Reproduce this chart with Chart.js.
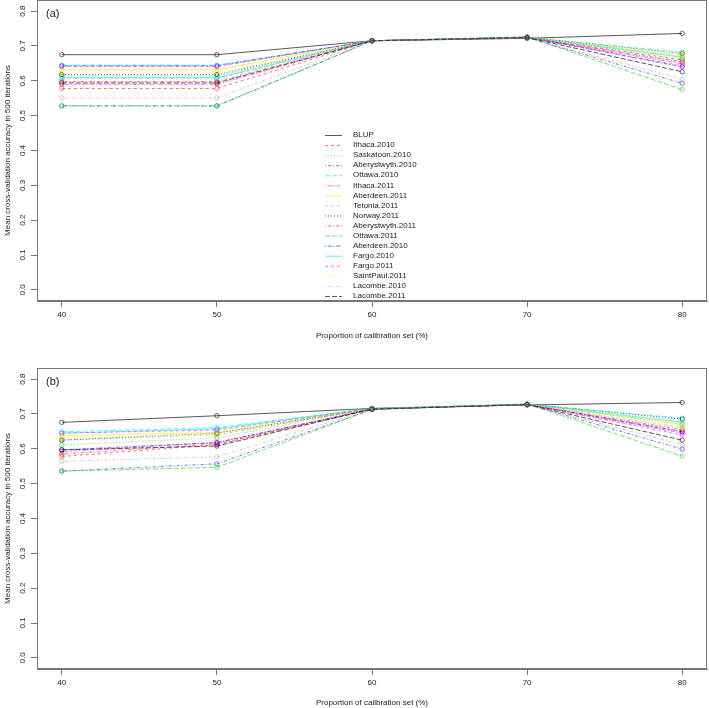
<!DOCTYPE html>
<html>
<head>
<meta charset="utf-8">
<script src="https://cdn.jsdelivr.net/npm/chart.js@4/dist/chart.umd.min.js"></script>
<style>
  html, body { margin: 0; padding: 0; background: #fff; }
  .panel { position: absolute; left: 0; width: 709px; height: 354px; }
  #panelA { top: 0; }
  #panelB { top: 354px; }
</style>
</head>
<body>
<div class="panel" id="panelA"><canvas id="chartA"></canvas></div>
<div class="panel" id="panelB"><canvas id="chartB"></canvas></div>
<script>
// x values (calibration set proportion) and y tick labels
const proportions = [40, 50, 60, 70, 80];
const yTicks = [0, 0.1, 0.2, 0.3, 0.4, 0.5, 0.6, 0.7, 0.8];

const siteNames = ['BLUP', 'Ithaca.2010', 'Saskatoon.2010', 'Aberystwyth.2010', 'Ottawa.2010',
    'Ithaca.2011', 'Aberdeen.2011', 'Tetonia.2011', 'Norway.2011', 'Aberystwyth.2011',
    'Ottawa.2011', 'Aberdeen.2010', 'Fargo.2010', 'Fargo.2011', 'SaintPaul.2011',
    'Lacombe.2010', 'Lacombe.2011'];

// R palette 1:8 and lty 1:6, recycled
const palette = ['rgba(0,0,0,0.65)', 'rgba(255,0,0,0.55)', 'rgba(0,205,0,0.55)', 'rgba(0,0,255,0.55)',
    'rgba(0,230,230,0.6)', 'rgba(255,0,255,0.55)', 'rgba(240,230,0,0.6)', 'rgba(170,170,170,0.6)'];
const dashes = [[], [3, 3], [1, 2], [1, 2, 3, 2], [5, 2], [1.5, 1.5, 4, 1.5]];

// panel (a): mean accuracy at 40,50,60,70,80 %
const accuracyA = [
    [0.675, 0.675, 0.715, 0.722, 0.736],
    [0.578, 0.578, 0.715, 0.724, 0.660],
    [0.614, 0.614, 0.715, 0.725, 0.663],
    [0.528, 0.528, 0.715, 0.724, 0.593],
    [0.645, 0.645, 0.715, 0.725, 0.682],
    [0.590, 0.590, 0.715, 0.724, 0.649],
    [0.632, 0.632, 0.715, 0.725, 0.671],
    [0.606, 0.606, 0.715, 0.724, 0.655],
    [0.618, 0.618, 0.715, 0.725, 0.678],
    [0.598, 0.598, 0.715, 0.724, 0.654],
    [0.528, 0.528, 0.715, 0.726, 0.575],
    [0.643, 0.643, 0.715, 0.726, 0.640],
    [0.609, 0.609, 0.715, 0.725, 0.668],
    [0.641, 0.641, 0.715, 0.724, 0.643],
    [0.625, 0.625, 0.715, 0.725, 0.676],
    [0.551, 0.551, 0.715, 0.723, 0.605],
    [0.594, 0.594, 0.715, 0.724, 0.626]
];

// panel (b)
const accuracyB = [
    [0.676, 0.695, 0.716, 0.726, 0.733],
    [0.578, 0.612, 0.714, 0.727, 0.650],
    [0.611, 0.632, 0.715, 0.728, 0.670],
    [0.536, 0.557, 0.713, 0.728, 0.599],
    [0.649, 0.661, 0.716, 0.728, 0.688],
    [0.592, 0.618, 0.714, 0.727, 0.645],
    [0.638, 0.647, 0.715, 0.728, 0.672],
    [0.625, 0.640, 0.715, 0.727, 0.662],
    [0.625, 0.645, 0.715, 0.728, 0.685],
    [0.585, 0.614, 0.714, 0.727, 0.655],
    [0.536, 0.547, 0.713, 0.729, 0.579],
    [0.597, 0.618, 0.714, 0.727, 0.649],
    [0.645, 0.657, 0.716, 0.728, 0.677],
    [0.645, 0.654, 0.715, 0.727, 0.640],
    [0.632, 0.642, 0.715, 0.728, 0.661],
    [0.564, 0.577, 0.714, 0.727, 0.612],
    [0.597, 0.608, 0.714, 0.727, 0.625]
];

const FONT = 'Liberation Sans, Arial, Helvetica, sans-serif';
const axisColor = '#777';
const textColor = '#222';

function makeDatasets(values) {
    return siteNames.map((name, i) => ({
        label: name,
        data: proportions.map((p, j) => ({ x: p, y: values[i][j] })),
        borderColor: palette[i % 8],
        borderDash: dashes[i % 6],
        borderWidth: 1,
        pointRadius: 2.2,
        pointBorderWidth: 0.9,
        pointBackgroundColor: 'rgba(0,0,0,0)',
        pointBorderColor: palette[i % 8],
        tension: 0,
        order: siteNames.length - i
    }));
}

// box, rotated y tick labels, panel tag and legend, drawn R-style
function framePlugin(tag, showLegend) {
    return {
        id: 'rFrame',
        afterDraw(chart) {
            const ctx = chart.ctx;
            const area = chart.chartArea;
            const yScale = chart.scales.y;
            ctx.save();
            ctx.strokeStyle = axisColor;
            ctx.lineWidth = 1;
            ctx.strokeRect(area.left + 0.5, area.top + 0.5, area.right - area.left - 1, area.bottom - area.top - 1);

            ctx.fillStyle = textColor;
            ctx.font = '8px ' + FONT;
            ctx.textAlign = 'center';
            ctx.textBaseline = 'middle';
            yTicks.forEach(v => {
                const py = yScale.getPixelForValue(v);
                ctx.save();
                ctx.translate(area.left - 14, py);
                ctx.rotate(-Math.PI / 2);
                ctx.fillText(v.toFixed(1), 0, 0);
                ctx.restore();
            });

            ctx.font = '11px ' + FONT;
            ctx.textAlign = 'left';
            ctx.fillText(tag, area.left + 9, area.top + 14);

            if (showLegend) {
                const lx = area.left + 288;
                const ly = area.top + 135;
                ctx.font = '8px ' + FONT;
                chart.data.datasets.forEach((ds, i) => {
                    const y = ly + i * 10.06;
                    ctx.strokeStyle = ds.borderColor;
                    ctx.setLineDash(ds.borderDash);
                    ctx.beginPath();
                    ctx.moveTo(lx, y + 0.5);
                    ctx.lineTo(lx + 17, y + 0.5);
                    ctx.stroke();
                    ctx.setLineDash([]);
                    ctx.fillStyle = textColor;
                    ctx.fillText(ds.label, lx + 28, y);
                });
            }
            ctx.restore();
        }
    };
}

function makeChart(canvasId, values, tag, showLegend, padTop, xHeight, titleBottom) {
    const ctx = document.getElementById(canvasId).getContext('2d');
    return new Chart(ctx, {
        type: 'line',
        data: { datasets: makeDatasets(values) },
        options: {
            responsive: true,
            maintainAspectRatio: false,
            animation: false,
            layout: { autoPadding: false, padding: { top: padTop, right: 2, left: 0, bottom: 0 } },
            plugins: { legend: { display: false }, tooltip: { enabled: false } },
            scales: {
                x: {
                    type: 'linear',
                    min: 38.4,
                    max: 81.6,
                    afterBuildTicks: s => { s.ticks = proportions.map(v => ({ value: v })); },
                    afterFit: s => { s.height = xHeight; s.paddingLeft = 0; s.paddingRight = 0; },
                    ticks: { color: textColor, font: { family: FONT, size: 8 }, padding: 3, maxRotation: 0 },
                    grid: { drawOnChartArea: false, drawTicks: true, tickLength: 6, color: axisColor },
                    border: { color: axisColor },
                    title: {
                        display: true,
                        text: 'Proportion of calibration set (%)',
                        color: textColor,
                        font: { family: FONT, size: 8 },
                        padding: { top: 0, bottom: titleBottom }
                    }
                },
                y: {
                    type: 'linear',
                    min: -0.032,
                    max: 0.832,
                    afterBuildTicks: s => { s.ticks = yTicks.map(v => ({ value: v })); },
                    afterFit: s => { s.width = 37; s.paddingTop = 0; s.paddingBottom = 0; },
                    ticks: { display: true, color: 'rgba(0,0,0,0)', font: { family: FONT, size: 8 } },
                    grid: { drawOnChartArea: false, drawTicks: true, tickLength: 6, color: axisColor },
                    border: { color: axisColor },
                    title: {
                        display: true,
                        text: 'Mean cross-validation accuracy in 500 iterations',
                        color: textColor,
                        font: { family: FONT, size: 8 },
                        padding: { top: 3, bottom: 0 }
                    }
                }
            }
        },
        plugins: [framePlugin(tag, showLegend)]
    });
}

makeChart('chartA', accuracyA, '(a)', true, 0, 53, 13);
makeChart('chartB', accuracyB, '(b)', false, 14, 39, 0);
</script>
</body>
</html>
